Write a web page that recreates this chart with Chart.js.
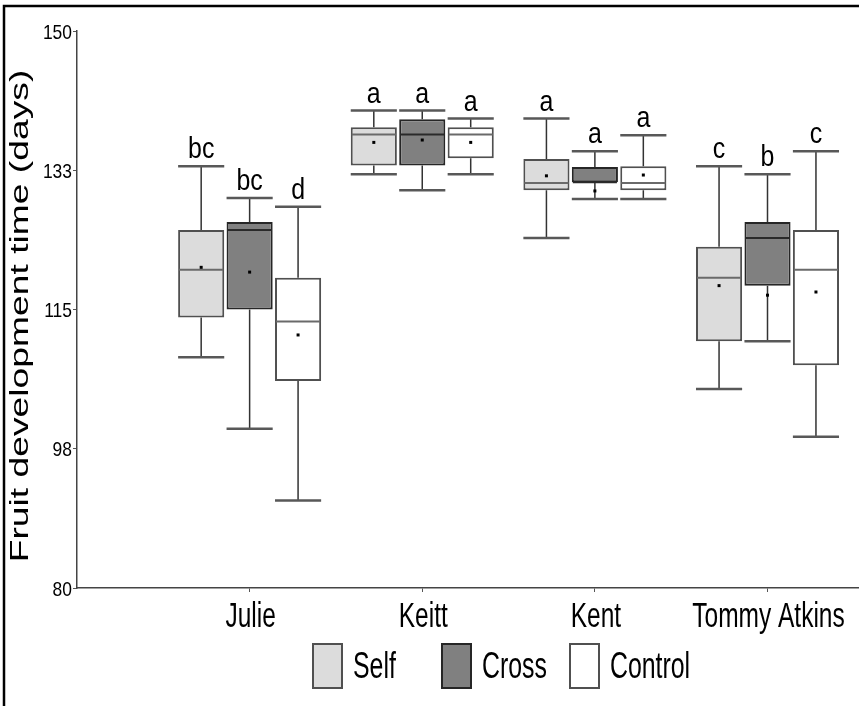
<!DOCTYPE html>
<html>
<head>
<meta charset="utf-8">
<script src="https://cdn.jsdelivr.net/npm/chart.js@4.4.1/dist/chart.umd.min.js"></script>
<style>
  html, body { margin: 0; padding: 0; background: #fff; }
  #wrap { width: 859px; height: 706px; }
</style>
</head>
<body>
<div id="wrap"><canvas id="graph" width="859" height="706"></canvas></div>
<script>
// Values (days)
var cultivars = ['Julie', 'Keitt', 'Kent', 'Tommy Atkins'];
var cultivarPos = [1, 2, 3, 4];
var yTicks = [80, 97.5, 115, 132.5, 150];
var groupNames = ['Self', 'Cross', 'Control'];

var selfLow = [109, 132, 124, 105];
var selfQ1 = [114, 133.1, 130, 111];
var selfMedian = [120, 137, 130.9, 119];
var selfQ3 = [125, 137.9, 133.9, 122.9];
var selfHigh = [133, 140, 139, 133];
var selfMean = [120.3, 136, 131.8, 118];
var selfLetters = ['bc', 'a', 'a', 'c'];

var crossLow = [100, 130, 128.9, 111];
var crossQ1 = [115, 133.1, 131, 118];
var crossMedian = [125, 137, 131, 124];
var crossQ3 = [126, 138.9, 132.9, 126];
var crossHigh = [129, 140, 134.9, 132];
var crossMean = [119.7, 136.3, 129.9, 116.8];
var crossLetters = ['bc', 'a', 'a', 'b'];

var controlLow = [91, 132, 128.9, 99];
var controlQ1 = [106, 134, 130, 108];
var controlMedian = [113.5, 137, 130.9, 120];
var controlQ3 = [119, 137.9, 133, 125];
var controlHigh = [127.9, 139, 136.9, 134.9];
var controlMean = [111.8, 136, 131.9, 117.2];
var controlLetters = ['d', 'a', 'a', 'c'];

var sans = "'Liberation Sans', Arial, sans-serif";
var fills = ['#dcdcdc', '#808080', '#ffffff'];
var edges = ['#505050', '#262626', '#505050'];
var medianColors = ['#6a6a6a', '#2a2a2a', '#6a6a6a'];

// Arial Narrow look: regular sans squeezed sideways
function narrowText(ctx, text, x, y, size, squeeze, align) {
  ctx.save();
  ctx.translate(x, y);
  ctx.scale(squeeze, 1);
  ctx.font = size + 'px ' + sans;
  ctx.fillStyle = '#000';
  ctx.textAlign = align;
  ctx.textBaseline = 'alphabetic';
  ctx.fillText(text, 0, 0);
  ctx.restore();
}

function makeBoxSet(idx, low, q1, median, q3, high, mean, letters) {
  return {
    label: groupNames[idx],
    data: cultivarPos.map(function (p, i) { return { x: p, y: [q1[i], q3[i]] }; }),
    backgroundColor: fills[idx],
    borderColor: edges[idx],
    borderWidth: 2,
    borderSkipped: false,
    low: low, median: median, high: high, mean: mean, letters: letters
  };
}

// whiskers, medians, means and letters on top of the floating bars
var boxExtras = {
  id: 'boxExtras',
  afterDatasetsDraw: function (chart) {
    var ctx = chart.ctx;
    var yScale = chart.scales.y;
    chart.data.datasets.forEach(function (ds, i) {
      var meta = chart.getDatasetMeta(i);
      meta.data.forEach(function (bar, j) {
        var x = bar.x;
        var half = bar.width / 2;
        var yLow = yScale.getPixelForValue(ds.low[j]);
        var yHigh = yScale.getPixelForValue(ds.high[j]);
        var yQ1 = yScale.getPixelForValue(ds.data[j].y[0]);
        var yQ3 = yScale.getPixelForValue(ds.data[j].y[1]);
        var yMed = yScale.getPixelForValue(ds.median[j]);
        var yMean = yScale.getPixelForValue(ds.mean[j]);
        ctx.save();
        ctx.strokeStyle = '#333';
        ctx.lineWidth = 1.5;
        ctx.beginPath();
        ctx.moveTo(x, yQ3); ctx.lineTo(x, yHigh);
        ctx.moveTo(x, yQ1); ctx.lineTo(x, yLow);
        ctx.stroke();
        ctx.strokeStyle = '#585858';
        ctx.lineWidth = 2.5;
        ctx.beginPath();
        ctx.moveTo(x - half, yHigh); ctx.lineTo(x + half, yHigh);
        ctx.moveTo(x - half, yLow); ctx.lineTo(x + half, yLow);
        ctx.stroke();
        ctx.strokeStyle = medianColors[i];
        ctx.lineWidth = 2;
        ctx.beginPath();
        ctx.moveTo(x - half + 1, yMed); ctx.lineTo(x + half - 1, yMed);
        ctx.stroke();
        ctx.fillStyle = '#000';
        ctx.fillRect(x - 1.5, yMean - 1.5, 3, 3);
        ctx.restore();
        narrowText(ctx, ds.letters[j], x, yHigh - 8, 29, 0.86, 'center');
      });
    });
  }
};

// tick labels, frame, y title and legend
var decorations = {
  id: 'decorations',
  beforeDraw: function (chart) {
    var ctx = chart.ctx;
    ctx.save();
    ctx.fillStyle = '#fff';
    ctx.fillRect(0, 0, chart.width, chart.height);
    ctx.restore();
  },
  afterDraw: function (chart) {
    var ctx = chart.ctx;
    var xs = chart.scales.x, ys = chart.scales.y;

    xs.ticks.forEach(function (t) {
      var name = cultivars[cultivarPos.indexOf(t.value)];
      narrowText(ctx, name, xs.getPixelForValue(t.value) + 1, xs.top + 39, 35, 0.70, 'center');
    });
    ys.ticks.forEach(function (t) {
      narrowText(ctx, String(Math.round(t.value)), ys.right - 5, ys.getPixelForValue(t.value) + 7.5, 21, 0.83, 'right');
    });

    ctx.save();
    ctx.strokeStyle = '#000';
    ctx.lineWidth = 2.5;
    ctx.beginPath();
    ctx.moveTo(4, chart.height);
    ctx.lineTo(4, 6);
    ctx.lineTo(chart.width, 6);
    ctx.stroke();

    ctx.translate(28, 316);
    ctx.rotate(-Math.PI / 2);
    ctx.scale(1.49, 1);
    ctx.fillStyle = '#000';
    ctx.font = '25px ' + sans;
    ctx.textAlign = 'center';
    ctx.textBaseline = 'alphabetic';
    ctx.fillText('Fruit development time (days)', 0, 0);
    ctx.restore();

    var legendX = [312, 441, 569];
    groupNames.forEach(function (name, i) {
      ctx.save();
      ctx.fillStyle = fills[i];
      ctx.fillRect(legendX[i], 643, 31, 46);
      ctx.strokeStyle = edges[i];
      ctx.lineWidth = 2;
      ctx.strokeRect(legendX[i] + 1, 644, 29, 44);
      ctx.restore();
      narrowText(ctx, name, legendX[i] + 41, 678, 36, 0.69, 'left');
    });
  }
};

var chart = new Chart(document.getElementById('graph').getContext('2d'), {
  type: 'bar',
  data: {
    datasets: [
      makeBoxSet(0, selfLow, selfQ1, selfMedian, selfQ3, selfHigh, selfMean, selfLetters),
      makeBoxSet(1, crossLow, crossQ1, crossMedian, crossQ3, crossHigh, crossMean, crossLetters),
      makeBoxSet(2, controlLow, controlQ1, controlMedian, controlQ3, controlHigh, controlMean, controlLetters)
    ]
  },
  options: {
    responsive: false,
    animation: false,
    categoryPercentage: 0.842,
    barPercentage: 0.952,
    layout: { padding: { top: 31, left: 0, right: 0, bottom: 0 } },
    plugins: { legend: { display: false }, tooltip: { enabled: false } },
    scales: {
      x: {
        type: 'linear',
        min: 0,
        max: 4.53,
        offset: false,
        afterBuildTicks: function (s) { s.ticks = cultivarPos.map(function (v) { return { value: v }; }); },
        afterFit: function (s) { s.height = 118; },
        ticks: { display: false },
        grid: { drawOnChartArea: false, drawTicks: true, tickLength: 4, color: '#555', offset: false },
        border: { color: '#444', width: 1.5 }
      },
      y: {
        min: 80,
        max: 150,
        afterBuildTicks: function (s) { s.ticks = yTicks.map(function (v) { return { value: v }; }); },
        afterFit: function (s) { s.width = 77; },
        ticks: { display: false },
        grid: { drawOnChartArea: false, drawTicks: true, tickLength: 4, color: '#555' },
        border: { color: '#444', width: 1.5 }
      }
    }
  },
  plugins: [boxExtras, decorations]
});
</script>
</body>
</html>
